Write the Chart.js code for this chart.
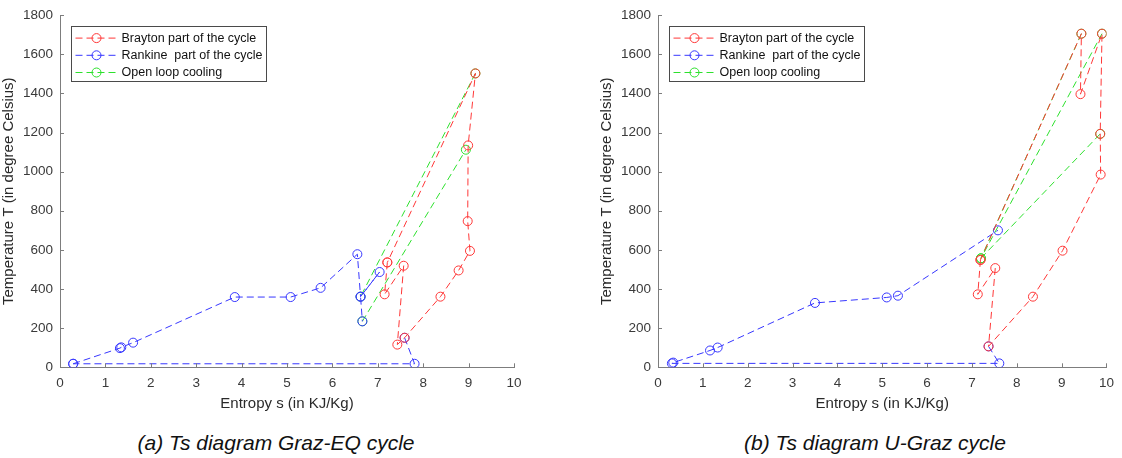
<!DOCTYPE html>
<html>
<head>
<meta charset="utf-8">
<script src="https://cdn.jsdelivr.net/npm/chart.js@4/dist/chart.umd.min.js"></script>
<style>
html,body{margin:0;padding:0;background:#fff;width:1122px;height:458px;overflow:hidden;font-family:"Liberation Sans",Arial,sans-serif}
canvas{position:absolute;top:0}
#c1{left:0}
#c2{left:598px}
.cap{position:absolute;top:430px;font-style:italic;font-size:21px;line-height:26px;color:#111;white-space:nowrap;transform:translateX(-50%)}
#cap1{left:276px}
#cap2{left:875px}
</style>
</head>
<body>
<canvas id="c1" width="560" height="420"></canvas>
<canvas id="c2" width="524" height="420"></canvas>
<div class="cap" id="cap1">(a) Ts diagram Graz-EQ cycle</div>
<div class="cap" id="cap2">(b) Ts diagram U-Graz cycle</div>
<script>
// ---------- data ----------
const seriesLabels = ['Brayton part of the cycle', 'Rankine  part of the cycle', 'Open loop cooling'];
const xAxisLabel = 'Entropy s (in KJ/Kg)';
const yAxisLabel = 'Temperature T (in degree Celsius)';
const sTickValues = [0, 1, 2, 3, 4, 5, 6, 7, 8, 9, 10];
const tTickValues = [0, 200, 400, 600, 800, 1000, 1200, 1400, 1600, 1800];

// (a) Graz-EQ cycle  (null = break in the line)
const grazEqBraytonS = [7.21, 7.15, 7.57, 7.43, 7.59, 8.38, 8.78, 9.03, 8.98, 8.99, 9.15, 7.21];
const grazEqBraytonT = [536, 373, 519, 116, 151, 361, 495, 595, 747, 1134, 1502, 536];
const grazEqRankineS = [0.29, 1.32, 1.35, 1.61, 3.85, 5.08, 5.74, 6.55, 6.62, 7.04, 6.62, 6.66, null, 7.59, 7.81, 0.29];
const grazEqRankineT = [18, 98, 102, 126, 359, 359, 406, 578, 361, 487, 361, 235, null, 151, 18, 18];
const grazEqCoolingS = [9.15, 6.62, null, 6.66, 8.94];
const grazEqCoolingT = [1502, 361, null, 235, 1112];

// (b) U-Graz cycle
const uGrazBraytonS = [7.19, 7.13, 7.52, 7.37, 8.36, 9.02, 9.87, 9.86, 9.90, 9.42, 9.44, 7.19];
const uGrazBraytonT = [549, 373, 507, 107, 361, 596, 985, 1193, 1705, 1396, 1705, 549];
const uGrazRankineS = [7.37, 7.61, 0.31, 0.34, 1.16, 1.33, 3.50, 5.10, 5.35, 7.58];
const uGrazRankineT = [107, 20, 20, 24, 86, 101, 329, 357, 366, 700];
const uGrazCoolingS = [9.44, 7.20, 9.90, null, 7.20, 9.86];
const uGrazCoolingT = [1705, 557, 1705, null, 557, 1193];

// ---------- styling ----------
const FONT = '"Liberation Sans", Arial, sans-serif';
const COLORS = ['rgb(255,55,55)', 'rgb(55,55,255)', 'rgb(45,225,45)'];
const AXIS_COLOR = '#7d7d7d';
const TICK_COLOR = '#3a3a3a';
const LABEL_COLOR = '#2a2a2a';
const DASH = [7, 4];

function pts(S, T) { return S.map((s, i) => ({ x: s, y: T[i] })); }

function makeDataset(label, S, T, color) {
  return {
    label: label,
    data: pts(S, T),
    borderColor: color,
    borderWidth: 1,
    borderDash: DASH,
    pointRadius: 4.5,
    pointHoverRadius: 4.5,
    pointStyle: 'circle',
    pointBorderColor: color,
    pointBackgroundColor: 'rgba(0,0,0,0)',
    pointBorderWidth: 1,
    tension: 0,
    fill: false,
    spanGaps: false
  };
}

const matlabPlugin = {
  id: 'matlabPlugin',
  afterDraw(chart) {
    const ctx = chart.ctx;
    const ca = chart.chartArea;
    const xs = chart.scales.x, ys = chart.scales.y;
    ctx.save();
    // inward tick marks
    ctx.strokeStyle = AXIS_COLOR;
    ctx.lineWidth = 1;
    ctx.beginPath();
    sTickValues.forEach(v => {
      const px = Math.round(xs.getPixelForValue(v)) + 0.5;
      ctx.moveTo(px, ca.bottom);
      ctx.lineTo(px, ca.bottom - 4);
    });
    tTickValues.forEach(v => {
      const py = Math.round(ys.getPixelForValue(v)) + 0.5;
      ctx.moveTo(ca.left, py);
      ctx.lineTo(ca.left + 4, py);
    });
    ctx.stroke();

    // legend box (top-left, inside the axes)
    const bx = Math.round(ca.left + 10.5) + 0.5;
    const by = Math.round(ca.top + 10.5) + 0.5;
    const bw = 195, bh = 55;
    ctx.fillStyle = '#ffffff';
    ctx.fillRect(bx, by, bw, bh);
    ctx.strokeStyle = '#4a4a4a';
    ctx.lineWidth = 1;
    ctx.strokeRect(bx, by, bw, bh);
    ctx.font = '12.5px ' + FONT;
    ctx.textBaseline = 'middle';
    ctx.textAlign = 'left';
    chart.data.datasets.forEach((ds, i) => {
      const y = by + 11.6 + i * 17.2;
      ctx.strokeStyle = ds.borderColor;
      ctx.setLineDash(DASH);
      ctx.beginPath();
      ctx.moveTo(bx + 4, y);
      ctx.lineTo(bx + 47, y);
      ctx.stroke();
      ctx.setLineDash([]);
      ctx.beginPath();
      ctx.arc(bx + 25, y, 4.5, 0, Math.PI * 2);
      ctx.stroke();
      ctx.fillStyle = '#111';
      ctx.fillText(ds.label, bx + 50, y + 0.5);
    });
    ctx.restore();
  }
};

function makeChart(id, rightPad, B, R, C) {
  return new Chart(document.getElementById(id), {
    type: 'line',
    data: {
      datasets: [
        makeDataset(seriesLabels[0], B[0], B[1], COLORS[0]),
        makeDataset(seriesLabels[1], R[0], R[1], COLORS[1]),
        makeDataset(seriesLabels[2], C[0], C[1], COLORS[2])
      ]
    },
    options: {
      responsive: false,
      animation: false,
      devicePixelRatio: 1,
      events: [],
      layout: { padding: { top: 10, left: 0, right: rightPad, bottom: 0 } },
      plugins: { legend: { display: false }, tooltip: { enabled: false }, title: { display: false } },
      scales: {
        x: {
          type: 'linear', min: 0, max: 10,
          afterBuildTicks: s => { s.ticks = sTickValues.map(v => ({ value: v })); },
          afterFit: s => { s.height = 52.7; },
          grid: { display: false, drawTicks: false },
          border: { display: true, color: AXIS_COLOR, width: 1 },
          ticks: { color: TICK_COLOR, font: { family: FONT, size: 13.5 }, padding: 8, maxRotation: 0, autoSkip: false,
                   callback: v => String(v) },
          title: { display: true, text: xAxisLabel, color: LABEL_COLOR, font: { family: FONT, size: 15 }, padding: { top: 0, bottom: 7 } }
        },
        y: {
          type: 'linear', min: 0, max: 1800,
          afterBuildTicks: s => { s.ticks = tTickValues.map(v => ({ value: v })); },
          afterFit: s => { s.width = 60; },
          grid: { display: false, drawTicks: false },
          border: { display: true, color: AXIS_COLOR, width: 1 },
          ticks: { color: TICK_COLOR, font: { family: FONT, size: 13.5 }, padding: 7, autoSkip: false,
                   callback: v => String(v) },
          title: { display: true, text: yAxisLabel, color: LABEL_COLOR, font: { family: FONT, size: 15 }, padding: { top: 0, bottom: 0 } }
        }
      }
    },
    plugins: [matlabPlugin]
  });
}

makeChart('c1', 46,
  [grazEqBraytonS, grazEqBraytonT],
  [grazEqRankineS, grazEqRankineT],
  [grazEqCoolingS, grazEqCoolingT]);
makeChart('c2', 10,
  [uGrazBraytonS, uGrazBraytonT],
  [uGrazRankineS, uGrazRankineT],
  [uGrazCoolingS, uGrazCoolingT]);
</script>
</body>
</html>
